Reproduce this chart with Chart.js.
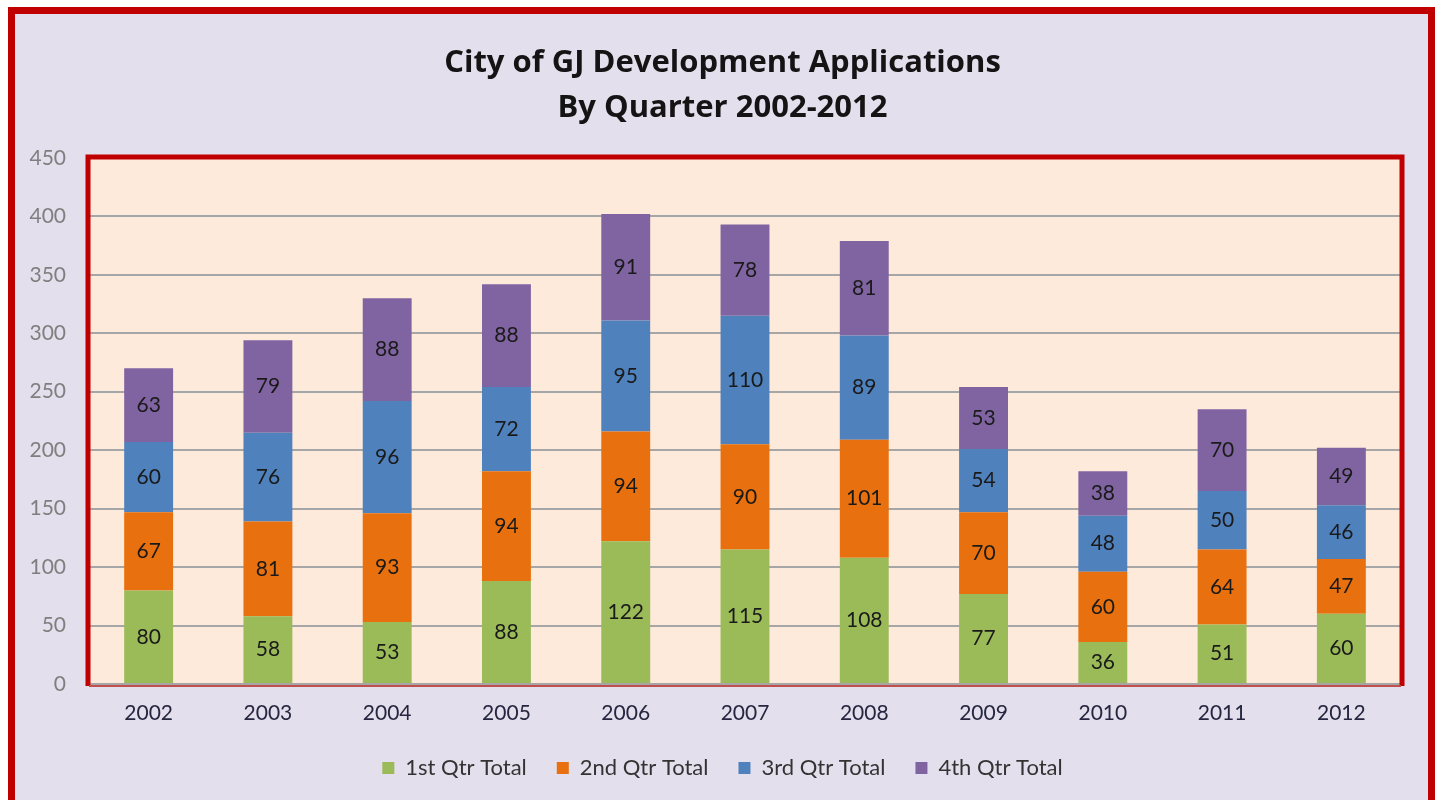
<!DOCTYPE html>
<html>
<head>
<meta charset="utf-8">
<script src="https://cdn.jsdelivr.net/npm/chart.js@4"></script>
<style>
  body { margin: 0; background: #ffffff; }
  #frame {
    position: absolute; left: 8px; top: 7px;
    width: 1413px; height: 820px;
    border: 7px solid #c00000;
    background: #e4dfec;
  }
  #wrap { position: absolute; left: 0; top: 0; width: 1445px; height: 800px; }
</style>
</head>
<body>
<div id="frame"></div>
<div id="wrap"><canvas id="grafico" width="1445" height="800"></canvas></div>
<script>
const years = ['2002', '2003', '2004', '2005', '2006', '2007', '2008', '2009', '2010', '2011', '2012'];
const qtr1 = [80, 58, 53, 88, 122, 115, 108, 77, 36, 51, 60];
const qtr2 = [67, 81, 93, 94, 94, 90, 101, 70, 60, 64, 47];
const qtr3 = [60, 76, 96, 72, 95, 110, 89, 54, 48, 50, 46];
const qtr4 = [63, 79, 88, 88, 91, 78, 81, 53, 38, 70, 49];
const yTicks = [0, 50, 100, 150, 200, 250, 300, 350, 400, 450];

const FONT = 'Lato, "Open Sans", sans-serif';

// peach plot area with red frame
const plotFrame = {
  id: 'plotFrame',
  beforeDraw(chart) {
    const a = chart.chartArea, c = chart.ctx;
    c.save();
    c.fillStyle = '#fdeada';
    c.fillRect(a.left, a.top, a.right - a.left, a.bottom - a.top);
    c.restore();
  },
  afterDatasetsDraw(chart) {
    const a = chart.chartArea, c = chart.ctx;
    c.save();
    c.strokeStyle = '#c00000';
    c.lineWidth = 5;
    c.beginPath();
    c.moveTo(a.left - 1, a.bottom + 2);
    c.lineTo(a.left - 1, a.top - 1);
    c.lineTo(a.right + 1, a.top - 1);
    c.lineTo(a.right + 1, a.bottom + 2);
    c.stroke();
    c.lineWidth = 2;
    c.strokeStyle = '#c0504d';
    c.beginPath();
    c.moveTo(a.left, a.bottom + 2);
    c.lineTo(a.right, a.bottom + 2);
    c.stroke();
    c.restore();
  }
};

// value labels in the middle of each segment
const segLabels = {
  id: 'segLabels',
  afterDatasetsDraw(chart) {
    const c = chart.ctx;
    c.save();
    c.font = '21px ' + FONT;
    c.fillStyle = '#1a1a1a';
    c.textAlign = 'center';
    c.textBaseline = 'middle';
    chart.data.datasets.forEach((ds, i) => {
      chart.getDatasetMeta(i).data.forEach((bar, j) => {
        const mid = (bar.y + bar.base) / 2;
        c.fillText(ds.data[j], bar.x, mid);
      });
    });
    c.restore();
  }
};

new Chart(document.getElementById('grafico').getContext('2d'), {
  type: 'bar',
  data: {
    labels: years,
    datasets: [
      { label: '1st Qtr Total', data: qtr1, backgroundColor: '#9bbb59' },
      { label: '2nd Qtr Total', data: qtr2, backgroundColor: '#e8700e' },
      { label: '3rd Qtr Total', data: qtr3, backgroundColor: '#4f81bd' },
      { label: '4th Qtr Total', data: qtr4, backgroundColor: '#8064a2' }
    ]
  },
  options: {
    responsive: false,
    animation: false,
    devicePixelRatio: 1,
    layout: { padding: { top: 41, right: 0, bottom: 11, left: 0 } },
    datasets: { bar: { categoryPercentage: 1, barPercentage: 0.41 } },
    plugins: {
      title: {
        display: true,
        text: ['City of GJ Development Applications', 'By Quarter 2002-2012'],
        color: '#141414',
        font: { family: '"Open Sans", sans-serif', size: 31, weight: 'bold', lineHeight: 1.45 },
        padding: { top: 0, bottom: 27 }
      },
      legend: {
        position: 'bottom',
        labels: {
          color: '#333333',
          font: { family: FONT, size: 22 },
          boxWidth: 12, boxHeight: 12, padding: 30
        }
      },
      tooltip: { enabled: false }
    },
    scales: {
      x: {
        stacked: true,
        afterFit(scale) { scale.height = 43; },
        grid: { display: false },
        border: { display: false },
        ticks: { color: '#262640', font: { family: FONT, size: 21 }, padding: 9 }
      },
      y: {
        stacked: true,
        min: 0, max: 450,
        afterFit(scale) { scale.width = 89; },
        afterBuildTicks(scale) { scale.ticks = yTicks.map(v => ({ value: v })); },
        grid: { color: '#a6a6a6', lineWidth: 2, drawTicks: false },
        border: { display: false },
        ticks: { color: '#7f7f7f', font: { family: FONT, size: 21 }, padding: 23 }
      },
      // empty right-hand strip so the plot ends where the reference does
      spacer: {
        type: 'linear',
        position: 'right',
        min: 0, max: 450,
        afterFit(scale) { scale.width = 44; },
        grid: { display: false },
        border: { display: false },
        ticks: { display: false }
      }
    }
  },
  plugins: [plotFrame, segLabels]
});
</script>
</body>
</html>
